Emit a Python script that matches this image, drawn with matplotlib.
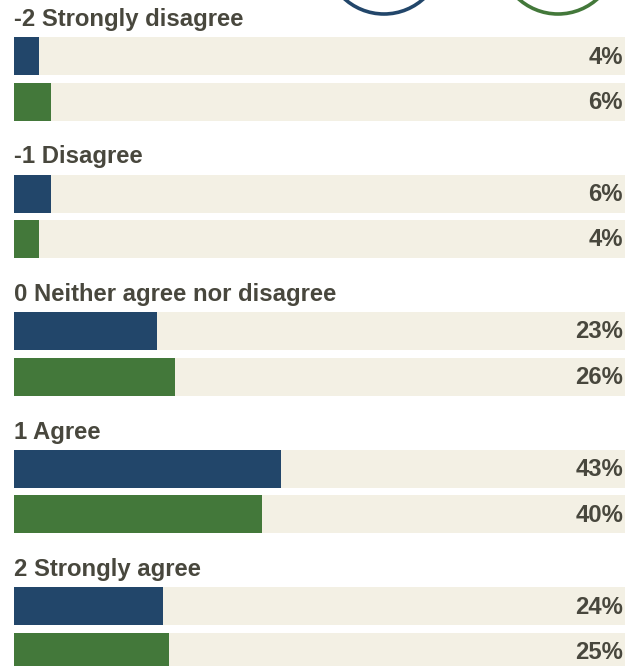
import matplotlib
matplotlib.use("Agg")
import matplotlib.pyplot as plt
from matplotlib.patches import Circle

categories = ["-2 Strongly disagree", "-1 Disagree", "0 Neither agree nor disagree",
              "1 Agree", "2 Strongly agree"]
series_a = [4, 6, 23, 43, 24]
series_b = [6, 4, 26, 40, 25]

blue = "#22466a"
green = "#43783a"
track = "#f3f0e4"
ink = "#48473d"

W, H = 625, 666
fig = plt.figure(figsize=(W / 100, H / 100), dpi=100)
ax = fig.add_axes([0, 0, 1, 1])
# x in percent: 0% sits at 14px, 6.2px per percent
px_per_pct = 6.2
ax.set_xlim(-14 / px_per_pct, (W - 14) / px_per_pct)
ax.set_ylim(H, 0)
ax.axis("off")

top = 37
pitch = 137.5
bar_h = 38
gap = 45.5
fam = ["Liberation Sans", "DejaVu Sans"]

for i, cat in enumerate(categories):
    y0 = top + i * pitch
    ax.text(0, y0 - 17.5, cat, fontsize=17.2, fontweight="bold", color=ink,
            family=fam, va="center", ha="left")
    for j, (vals, col) in enumerate([(series_a, blue), (series_b, green)]):
        yb = y0 + j * gap
        ax.barh(yb + bar_h / 2, 100, height=bar_h, left=0, color=track, lw=0)
        ax.barh(yb + bar_h / 2, vals[i], height=bar_h, left=0, color=col, lw=0)
        ax.text((W - 2 - 14) / px_per_pct, yb + bar_h / 2 + 1, f"{vals[i]}%",
                fontsize=17.2, fontweight="bold", color=ink,
                family=fam, va="center", ha="right")

# legend rings peeking in at the top edge
ov = fig.add_axes([0, 0, 1, 1])
ov.set_xlim(0, W)
ov.set_ylim(H, 0)
ov.axis("off")
ov.patch.set_alpha(0)
ov.add_patch(Circle((384, -45), 59, fill=False, ec=blue, lw=2.6))
ov.add_patch(Circle((558, -45), 59, fill=False, ec=green, lw=2.6))

fig.savefig("out.png", dpi=100)
